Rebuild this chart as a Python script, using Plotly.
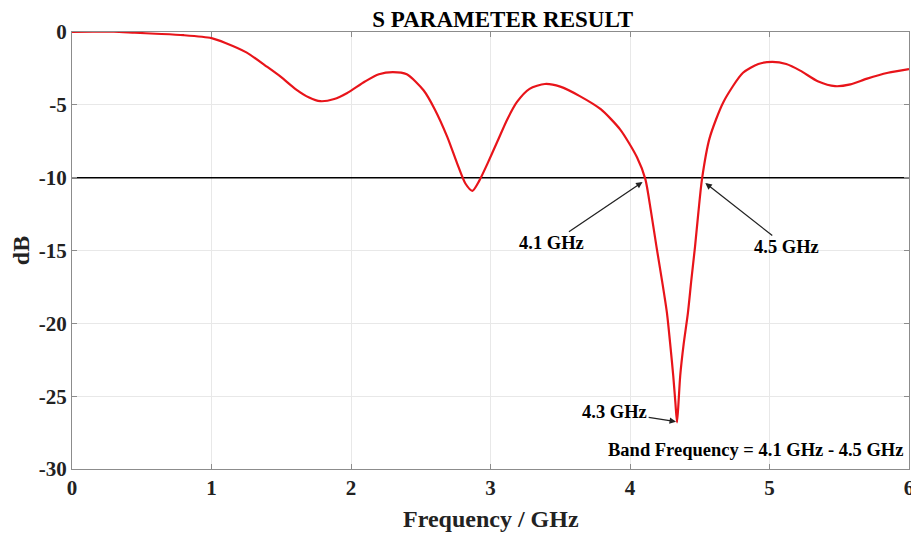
import plotly.graph_objects as go

freq = [0.0, 0.15, 0.3, 0.45, 0.6, 0.8, 1.0, 1.1, 1.25, 1.4, 1.5, 1.6, 1.7, 1.78, 1.88, 1.97,
        2.1, 2.2, 2.3, 2.4, 2.52, 2.6, 2.69, 2.76, 2.82, 2.87, 2.92, 2.98, 3.05, 3.12, 3.19,
        3.28, 3.39, 3.5, 3.64, 3.79, 3.93, 4.05, 4.11, 4.15, 4.19, 4.23, 4.265, 4.29, 4.31,
        4.325, 4.337, 4.348, 4.36, 4.385, 4.415, 4.44, 4.466, 4.49, 4.516, 4.57, 4.67, 4.81,
        4.92, 5.02, 5.12, 5.22, 5.35, 5.47, 5.58, 5.7, 5.85, 6.0]
s11 = [0.0, 0.02, 0.03, -0.05, -0.12, -0.22, -0.42, -0.75, -1.4, -2.4, -3.1, -3.9, -4.5, -4.75, -4.6, -4.2,
       -3.4, -2.9, -2.75, -2.9, -4.0, -5.3, -7.2, -9.0, -10.4, -10.9, -10.2, -9.0, -7.5, -6.0, -4.8,
       -3.9, -3.57, -3.75, -4.4, -5.3, -6.7, -8.6, -10.1, -12.3, -14.75, -17.1, -19.3, -21.6, -23.6,
       -25.4, -26.8, -25.4, -23.6, -21.4, -19.3, -17.0, -14.75, -12.4, -10.1, -7.3, -4.8, -2.8,
       -2.2, -2.05, -2.2, -2.65, -3.4, -3.72, -3.6, -3.2, -2.8, -2.55]
threshold_x = [0, 6]
threshold_y = [-10, -10]
x_ticks = [0, 1, 2, 3, 4, 5, 6]
y_ticks = [0, -5, -10, -15, -20, -25, -30]

FONT = "Liberation Serif"

fig = go.Figure()
fig.add_trace(go.Scatter(x=threshold_x, y=threshold_y, mode="lines",
                         line=dict(color="black", width=1.5), showlegend=False))
fig.add_trace(go.Scatter(x=freq, y=s11, mode="lines", line_shape="spline",
                         line=dict(color="#e8141a", width=2.2, smoothing=0.7), showlegend=False))

ann_font = dict(family=FONT, size=18.5, color="black")
fig.add_annotation(x=4.09, y=-10.3, ax=3.44, ay=-14.5, axref="x", ayref="y",
                   text="<b>4.1 GHz</b>", showarrow=True, arrowhead=2, arrowsize=1,
                   arrowwidth=1.3, arrowcolor="#222", font=ann_font)
fig.add_annotation(x=4.54, y=-10.37, ax=5.125, ay=-14.76, axref="x", ayref="y",
                   text="<b>4.5 GHz</b>", showarrow=True, arrowhead=2, arrowsize=1,
                   arrowwidth=1.3, arrowcolor="#222", font=ann_font)
fig.add_annotation(x=4.33, y=-26.75, ax=3.89, ay=-26.08, axref="x", ayref="y",
                   text="<b>4.3 GHz</b>", showarrow=True, arrowhead=2, arrowsize=1,
                   arrowwidth=1.3, arrowcolor="#222", font=ann_font)
fig.add_annotation(x=5.97, y=-28.7, xanchor="right", yanchor="middle",
                   text="<b>Band Frequency = 4.1 GHz - 4.5 GHz</b>", showarrow=False,
                   font=ann_font)
# x-axis title
fig.add_annotation(x=0.501, y=0, xref="paper", yref="paper", xanchor="center", yanchor="middle",
                   yshift=-50, text="<b>Frequency / GHz</b>", showarrow=False,
                   font=dict(family=FONT, size=24, color="#222"))

axis_common = dict(showline=True, linecolor="#8c8c8c", linewidth=1, mirror="ticks",
                   ticks="inside", ticklen=5, tickcolor="#8c8c8c", automargin=False,
                   showgrid=True, gridcolor="#e8e8e8", gridwidth=1, zeroline=False,
                   tickfont=dict(family=FONT, size=21, color="#222"))

fig.update_xaxes(range=[0, 6], tickvals=x_ticks, ticktext=[f"<b>{v}</b>" for v in x_ticks],
                 **axis_common)
fig.update_yaxes(range=[-30, 0], tickvals=y_ticks, ticktext=[f"<b>{v}</b>" for v in y_ticks],
                 title=dict(text="<b>dB</b>", font=dict(family=FONT, size=24, color="#222"),
                            standoff=6), **axis_common)

# The page body has an 8px margin, so the figure is sized to fit inside the window.
fig.update_layout(
    width=911, height=525,
    margin=dict(l=64, r=10, t=24, b=64),
    plot_bgcolor="white", paper_bgcolor="white",
    title=dict(text="<b>S PARAMETER RESULT</b>", x=0.543, xanchor="center", y=0.994, yanchor="top",
               font=dict(family=FONT, size=23, color="black")),
)

fig.write_html("out.html")
